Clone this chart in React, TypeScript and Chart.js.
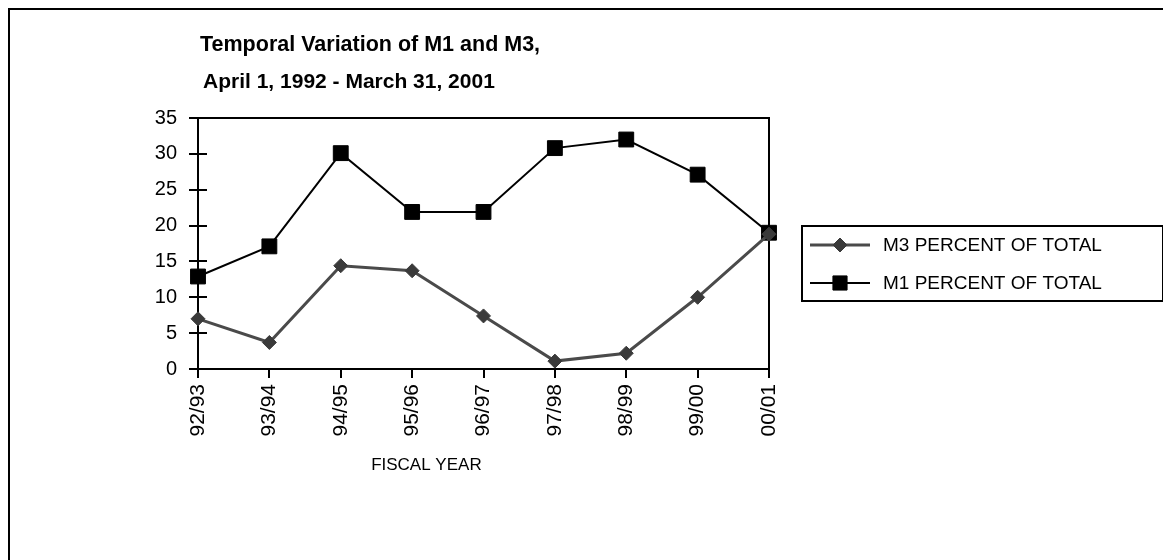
import React, { useEffect, useRef } from "react";
import { Chart, registerables } from "chart.js";

Chart.register(...registerables);

const TITLE_LINES = ["Temporal Variation of M1 and M3,", "April 1, 1992 - March 31, 2001"];
const FISCAL_YEARS = ["92/93", "93/94", "94/95", "95/96", "96/97", "97/98", "98/99", "99/00", "00/01"];
const M3_PERCENT = [7.0, 3.7, 14.4, 13.7, 7.4, 1.1, 2.2, 10.0, 18.8];
const M1_PERCENT = [12.9, 17.1, 30.1, 21.9, 21.9, 30.8, 32.0, 27.1, 19.0];
const Y_MIN = 0;
const Y_MAX = 35;
const Y_STEP = 5;
const X_AXIS_TITLE = "FISCAL YEAR";
const M3_LABEL = "M3 PERCENT OF TOTAL";
const M1_LABEL = "M1 PERCENT OF TOTAL";

const FONT = "'Liberation Sans', Arial, sans-serif";
const M3_COLOR = "#4a4a4a";
const M3_POINT = "#3a3a3a";
const M1_COLOR = "#000000";

function drawMarker(ctx: CanvasRenderingContext2D, style: string, r: number, cx: number, cy: number) {
  ctx.beginPath();
  if (style === "rect") {
    const s = Math.SQRT1_2 * r;
    ctx.rect(cx - s, cy - s, 2 * s, 2 * s);
  } else {
    ctx.moveTo(cx, cy - r);
    ctx.lineTo(cx + r, cy);
    ctx.lineTo(cx, cy + r);
    ctx.lineTo(cx - r, cy);
    ctx.closePath();
  }
  ctx.fill();
  ctx.stroke();
}

const decorPlugin = {
  id: "decor",
  beforeDatasetsDraw(chart: any) {
    const { ctx, chartArea: a, scales } = chart;
    const x = scales.x;
    const y = scales.y;
    ctx.save();
    ctx.strokeStyle = "#000";
    ctx.lineWidth = 2;
    ctx.strokeRect(a.left, a.top, a.right - a.left, a.bottom - a.top);
    ctx.beginPath();
    y.ticks.forEach((_t: any, i: number) => {
      const py = Math.round(y.getPixelForTick(i));
      ctx.moveTo(a.left - 9, py);
      ctx.lineTo(a.left + 9, py);
    });
    x.ticks.forEach((_t: any, i: number) => {
      const px = Math.round(x.getPixelForTick(i));
      ctx.moveTo(px, a.bottom);
      ctx.lineTo(px, a.bottom + 9);
    });
    ctx.stroke();
    ctx.restore();
  },
  afterDraw(chart: any) {
    const { ctx, chartArea: a } = chart;
    ctx.save();
    ctx.fillStyle = "#000";
    ctx.textBaseline = "middle";
    ctx.textAlign = "left";
    ctx.font = `bold 21.5px ${FONT}`;
    ctx.fillText(TITLE_LINES[0], 190, 35);
    ctx.font = `bold 21px ${FONT}`;
    ctx.fillText(TITLE_LINES[1], 193, 72);
    ctx.font = `17px ${FONT}`;
    ctx.textAlign = "center";
    ctx.fillText(X_AXIS_TITLE, a.left + (a.right - a.left) * 0.4, 455);
    const lx = 792, ly = 216, lw = 361, lh = 75;
    ctx.strokeStyle = "#000";
    ctx.lineWidth = 2;
    ctx.strokeRect(lx, ly, lw, lh);
    const rows = [
      { label: M3_LABEL, color: M3_COLOR, point: M3_POINT, style: "rectRot", r: 7, w: 3, y: ly + 19 },
      { label: M1_LABEL, color: M1_COLOR, point: M1_COLOR, style: "rect", r: 10, w: 2, y: ly + 57 },
    ];
    rows.forEach((row) => {
      ctx.strokeStyle = row.color;
      ctx.lineWidth = row.w;
      ctx.beginPath();
      ctx.moveTo(lx + 8, row.y);
      ctx.lineTo(lx + 68, row.y);
      ctx.stroke();
      ctx.fillStyle = row.point;
      ctx.strokeStyle = row.point;
      ctx.lineWidth = 1;
      drawMarker(ctx, row.style, row.r, lx + 38, row.y);
      ctx.fillStyle = "#000";
      ctx.font = `19px ${FONT}`;
      ctx.textAlign = "left";
      ctx.textBaseline = "middle";
      ctx.fillText(row.label, lx + 81, row.y + 1);
    });
    ctx.restore();
  },
};

export default function App() {
  const ref = useRef<HTMLCanvasElement | null>(null);

  useEffect(() => {
    document.documentElement.style.overflow = "hidden";
    document.body.style.overflow = "hidden";
    const canvas = ref.current;
    if (!canvas) return;
    const chart = new Chart(canvas, {
      type: "line",
      data: {
        labels: FISCAL_YEARS,
        datasets: [
          {
            label: M3_LABEL,
            data: M3_PERCENT,
            borderColor: M3_COLOR,
            borderWidth: 3,
            backgroundColor: M3_POINT,
            pointStyle: "rectRot",
            pointRadius: 7,
            pointBackgroundColor: M3_POINT,
            pointBorderColor: M3_POINT,
            pointBorderWidth: 1,
            tension: 0,
            clip: false,
          },
          {
            label: M1_LABEL,
            data: M1_PERCENT,
            borderColor: M1_COLOR,
            borderWidth: 2,
            backgroundColor: M1_COLOR,
            pointStyle: "rect",
            pointRadius: 10.5,
            pointBackgroundColor: M1_COLOR,
            pointBorderColor: M1_COLOR,
            pointBorderWidth: 1,
            tension: 0,
            clip: false,
          },
        ],
      },
      options: {
        responsive: false,
        animation: false,
        events: [],
        layout: { padding: { left: 0, right: 402, top: 108, bottom: 71 } },
        plugins: {
          legend: { display: false },
          title: { display: false },
          tooltip: { enabled: false },
        },
        scales: {
          x: {
            type: "category",
            offset: false,
            grid: { display: false, drawTicks: false },
            border: { display: false },
            ticks: {
              autoSkip: false,
              minRotation: 90,
              maxRotation: 90,
              padding: 15,
              color: "#000",
              font: { family: FONT, size: 21 },
            },
            afterFit: (s: any) => {
              s.height = 120;
            },
          },
          y: {
            min: Y_MIN,
            max: Y_MAX,
            grid: { display: false, drawTicks: false },
            border: { display: false },
            ticks: {
              stepSize: Y_STEP,
              padding: 21,
              color: "#000",
              font: { family: FONT, size: 20 },
            },
            afterFit: (s: any) => {
              s.width = 188;
            },
          },
        },
      },
      plugins: [decorPlugin],
    } as any);
    return () => chart.destroy();
  }, []);

  return (
    <div
      style={{
        width: 1161,
        height: 550,
        borderTop: "2px solid #000",
        borderLeft: "2px solid #000",
        background: "#fff",
      }}
    >
      <canvas ref={ref} width={1161} height={550} style={{ display: "block", width: 1161, height: 550 }} />
    </div>
  );
}
